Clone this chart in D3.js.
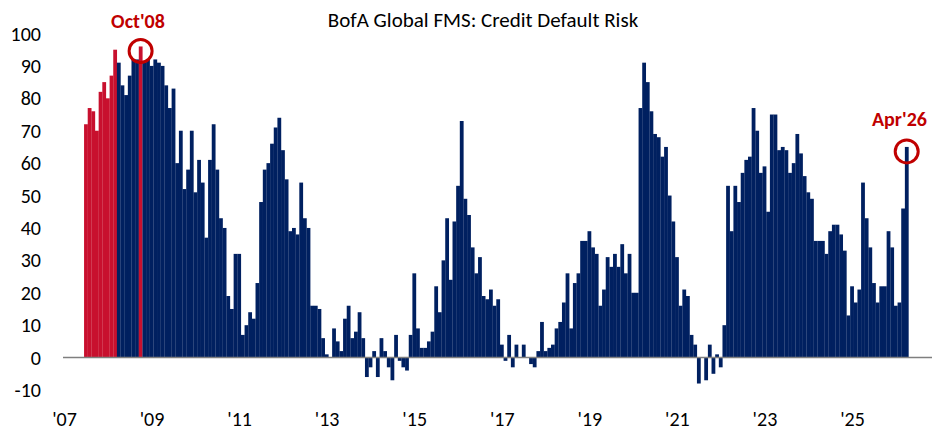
<!DOCTYPE html>
<html>
<head>
<meta charset="utf-8">
<script src="https://cdn.jsdelivr.net/npm/d3@7"></script>
<style>
	body { margin: 0; background: #fff; }
	text { font-family: Carlito, Calibri, Lato, sans-serif; }
</style>
</head>
<body>
<script>
const w = 932;
const h = 430;

// monthly readings, Jul 2007 .. Apr 2026
const startYear = 2007;
const startMonth = 6; // July (0-based)
const values = [
	72, 77, 76, 70, 82, 85, 80, 87, 95,
	91, 84, 81, 87, 92, 92, 96, 91, 92, 90, 92, 91, 90, 84, 77, 83,
	60, 70, 52, 58, 70, 51, 61, 54, 37, 61, 72, 58, 43, 40, 19, 15,
	32, 32, 7, 10, 14, 12, 23, 48, 58, 60, 66, 71, 74, 64, 55, 39,
	40, 38, 54, 43, 40, 16, 16, 15, 6, 1, 0, 9, 5, 2, 12, 16,
	6, 8, 14, 6, -6, -3, 2, -6, 6, 2, -3, -7, 7, -1, -3, -4,
	7, 26, 9, 3, 3, 5, 8, 22, 14, 30, 43, 24, 42, 53, 73, 49,
	44, 34, 26, 31, 19, 18, 21, 16, 18, 4, -1, 7, -3, 4, 0, 4,
	0, -2, -3, 2, 11, 2, 3, 4, 9, 11, 17, 26, 9, 23, 26, 36,
	36, 39, 34, 32, 16, 21, 31, 28, 32, 28, 35, 26, 32, 20, 20, 77,
	91, 85, 76, 69, 68, 62, 65, 50, 42, 31, 16, 21, 19, 7, 4, -8,
	0, -7, 4, -5, 1, -3, 10, 53, 39, 53, 48, 57, 61, 62, 77, 70,
	57, 59, 45, 75, 75, 64, 65, 64, 57, 60, 69, 63, 56, 51, 49, 36,
	36, 36, 32, 39, 41, 41, 38, 33, 13, 22, 17, 21, 54, 43, 34, 23,
	17, 22, 22, 39, 34, 16, 17, 46, 65
];
const redCount = 9; // Jul'07 - Mar'08 shown in red

const highlights = [
	{ label: "Oct'08", year: 2008, month: 9, red: true },
	{ label: "Apr'26", year: 2026, month: 3, red: false }
];

const yTicks = [-10, 0, 10, 20, 30, 40, 50, 60, 70, 80, 90, 100];
const xTickYears = [2007, 2009, 2011, 2013, 2015, 2017, 2019, 2021, 2023, 2025];
const xTickLabels = ["'07", "'09", "'11", "'13", "'15", "'17", "'19", "'21", "'23", "'25"];

const navy = '#002060';
const barRed = '#C8102E';
const noteRed = '#C00000';

function monthIndex(year, month) {
	return (year - startYear) * 12 + month;
}

const data = values.map(function(v, i) {
	return { idx: startMonth + i, value: v, red: i < redCount };
});
highlights.forEach(function(hl) {
	let d = data.find(function(e) {
		return e.idx === monthIndex(hl.year, hl.month);
	});
	if (hl.red) d.red = true;
	hl.d = d;
});

let x = d3.scaleLinear().domain([ 0, 231 ]).range([ 64, 906.7 ]);
let y = d3.scaleLinear().domain([ -10, 100 ]).range([ 390, 33.5 ]);
const bw = x(1) - x(0);

let svg = d3.select('body').append('svg').attr('width', w).attr('height', h);

svg
	.append('text')
	.attr('x', 483)
	.attr('y', 27)
	.attr('text-anchor', 'middle')
	.attr('font-size', 21)
	.attr('fill', '#000')
	.text('BofA Global FMS: Credit Default Risk');

// bars
svg
	.selectAll('.bar')
	.data(data)
	.enter()
	.append('rect')
	.attr('class', 'bar')
	.attr('x', function(d) {
		return x(d.idx) - bw / 2;
	})
	.attr('width', bw + 0.15)
	.attr('y', function(d) {
		return y(Math.max(0, d.value));
	})
	.attr('height', function(d) {
		return Math.abs(y(d.value) - y(0));
	})
	.attr('fill', function(d) {
		return d.red ? barRed : navy;
	});

// zero line
svg
	.append('line')
	.attr('x1', 63)
	.attr('x2', 932)
	.attr('y1', y(0))
	.attr('y2', y(0))
	.attr('stroke', '#7f7f7f')
	.attr('stroke-width', 1.5);

// y labels
svg
	.selectAll('.y-label')
	.data(yTicks)
	.enter()
	.append('text')
	.attr('class', 'y-label')
	.attr('x', 41)
	.attr('y', function(d) {
		return y(d);
	})
	.attr('dy', '0.35em')
	.attr('text-anchor', 'end')
	.attr('font-size', 20)
	.text(function(d) {
		return d;
	});

// x labels
const xAxis = d3
	.axisBottom(x)
	.tickValues(xTickYears.map(function(yr) {
		return monthIndex(yr, 0);
	}))
	.tickFormat(function(d, i) {
		return xTickLabels[i];
	})
	.tickSize(0)
	.tickPadding(0);

let gx = svg.append('g').attr('transform', 'translate(0,419)').call(xAxis);
gx.select('.domain').remove();
gx.selectAll('text').attr('dy', '0.35em').attr('font-size', 20).attr('fill', '#000')
	.style('font-family', 'Carlito, Calibri, Lato, sans-serif');

// callouts
highlights.forEach(function(hl) {
	const cx = x(hl.d.idx);
	const cy = y(hl.d.value) + 4.5;
	svg
		.append('circle')
		.attr('cx', cx)
		.attr('cy', cy)
		.attr('r', 11.5)
		.attr('fill', 'none')
		.attr('stroke', noteRed)
		.attr('stroke-width', 3);
});

svg
	.append('text')
	.attr('x', 138)
	.attr('y', 28)
	.attr('text-anchor', 'middle')
	.attr('font-size', 20)
	.attr('font-weight', 'bold')
	.attr('fill', noteRed)
	.text(highlights[0].label);

svg
	.append('text')
	.attr('x', 872)
	.attr('y', 126)
	.attr('font-size', 20)
	.attr('font-weight', 'bold')
	.attr('fill', noteRed)
	.text(highlights[1].label);
</script>
</body>
</html>
